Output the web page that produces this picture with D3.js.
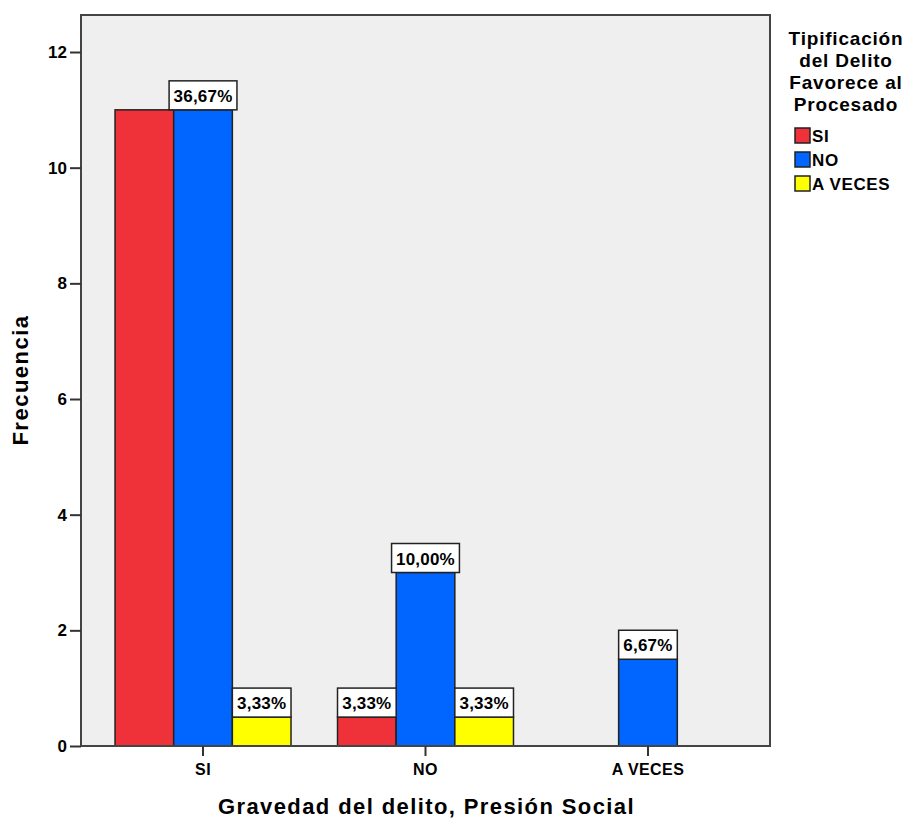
<!DOCTYPE html>
<html><head><meta charset="utf-8">
<script src="https://cdn.jsdelivr.net/npm/d3@7/dist/d3.min.js"></script>
<style>
body{margin:0;background:#fff;}
text{font-family:"Liberation Sans",Arial,sans-serif;font-weight:bold;fill:#000;}
</style></head><body>
<svg id="chart" width="907" height="819"></svg>
<script>
const categories = ["SI", "NO", "A VECES"];
const seriesNames = ["SI", "NO", "A VECES"];
const valuesSI = [11, 0.5, 0];
const valuesNO = [11, 3, 1.5];
const valuesAV = [0.5, 0.5, 0];
const labelsSI = [null, "3,33%", null];
const labelsNO = ["36,67%", "10,00%", "6,67%"];
const labelsAV = ["3,33%", "3,33%", null];
const yTicks = [0, 2, 4, 6, 8, 10, 12];
const colors = ["#ef3139", "#0066ff", "#ffff00"];
const legendTitle = ["Tipificación", "del Delito", "Favorece al", "Procesado"];
const xTitle = "Gravedad del delito, Presión Social";
const yTitle = "Frecuencia";

const seriesVals = [valuesSI, valuesNO, valuesAV];
const seriesLabels = [labelsSI, labelsNO, labelsAV];

const svg = d3.select("#chart");
const L = 81, R = 770, T = 15, B = 746;

const x = d3.scaleBand().domain(categories).range([L, R]).paddingInner(0.209).paddingOuter(0.153);
const xs = d3.scaleBand().domain(seriesNames).range([0, x.bandwidth()]);
const y = d3.scaleLinear().domain([0, 12.64]).range([B, T]);

// plot background
svg.append("rect").attr("x", L).attr("y", T).attr("width", R - L).attr("height", B - T)
  .attr("fill", "#efefef");

// bars
const data = [];
categories.forEach((c, ci) => {
  seriesNames.forEach((s, si) => {
    data.push({c, s, si, v: seriesVals[si][ci], lab: seriesLabels[si][ci]});
  });
});
svg.append("g").selectAll("rect").data(data.filter(d => d.v > 0)).join("rect")
  .attr("x", d => x(d.c) + xs(d.s))
  .attr("y", d => y(d.v))
  .attr("width", xs.bandwidth())
  .attr("height", d => y(0) - y(d.v))
  .attr("fill", d => colors[d.si])
  .attr("stroke", "#222").attr("stroke-width", 1.5);

// labels
const lg = svg.append("g");
data.filter(d => d.lab).forEach(d => {
  const cx = x(d.c) + xs(d.s) + xs.bandwidth() / 2;
  const top = y(d.v);
  const t = lg.append("text").attr("x", cx).attr("y", top - 8)
    .attr("text-anchor", "middle").style("font-size", "17px").style("letter-spacing", "0.2px").text(d.lab);
  const w = Math.max(xs.bandwidth(), t.node().getComputedTextLength() + 9);
  lg.insert("rect", "text").attr("x", cx - w / 2).attr("y", top - 29).attr("width", w).attr("height", 29)
    .attr("fill", "#fff").attr("stroke", "#222").attr("stroke-width", 1.5);
});

// frame
svg.append("rect").attr("x", L).attr("y", T).attr("width", R - L).attr("height", B - T)
  .attr("fill", "none").attr("stroke", "#444").attr("stroke-width", 2);

// y axis
const yAxis = svg.append("g").attr("transform", `translate(${L},0)`)
  .call(d3.axisLeft(y).tickValues(yTicks).tickSize(11).tickPadding(3).tickFormat(d3.format("d")));
yAxis.select(".domain").remove();
yAxis.selectAll(".tick line").attr("stroke", "#333").attr("stroke-width", 2);
yAxis.selectAll(".tick text").style("font-size", "17px").style("font-family", "'Liberation Sans',Arial,sans-serif").style("font-weight", "bold").attr("fill", "#000");

// x axis
const xAxis = svg.append("g").attr("transform", `translate(0,${B})`)
  .call(d3.axisBottom(x).tickSize(10).tickPadding(8));
xAxis.select(".domain").remove();
xAxis.selectAll(".tick line").attr("stroke", "#333").attr("stroke-width", 2);
xAxis.selectAll(".tick text").style("font-size", "16px").style("letter-spacing", "0.4px").style("font-family", "'Liberation Sans',Arial,sans-serif").style("font-weight", "bold").attr("fill", "#000");

// axis titles
svg.append("text").attr("x", (L + R) / 2 + 1).attr("y", 814).attr("text-anchor", "middle")
  .style("font-size", "22px").style("letter-spacing", "1.4px").text(xTitle);
svg.append("text").attr("transform", "translate(28,380) rotate(-90)").attr("text-anchor", "middle")
  .style("font-size", "22px").style("letter-spacing", "1.5px").text(yTitle);

// legend
const leg = svg.append("g");
legendTitle.forEach((t, i) => {
  leg.append("text").attr("x", 846).attr("y", 45 + i * 22).attr("text-anchor", "middle")
    .style("font-size", "19px").style("letter-spacing", "0.8px").text(t);
});
seriesNames.forEach((s, i) => {
  leg.append("rect").attr("x", 795).attr("y", 128 + i * 24).attr("width", 15).attr("height", 15)
    .attr("fill", colors[i]).attr("stroke", "#222").attr("stroke-width", 1.5);
  leg.append("text").attr("x", 812).attr("y", 142 + i * 24).style("font-size", "17px").style("letter-spacing", "0.6px").text(s);
});
</script>
</body></html>
